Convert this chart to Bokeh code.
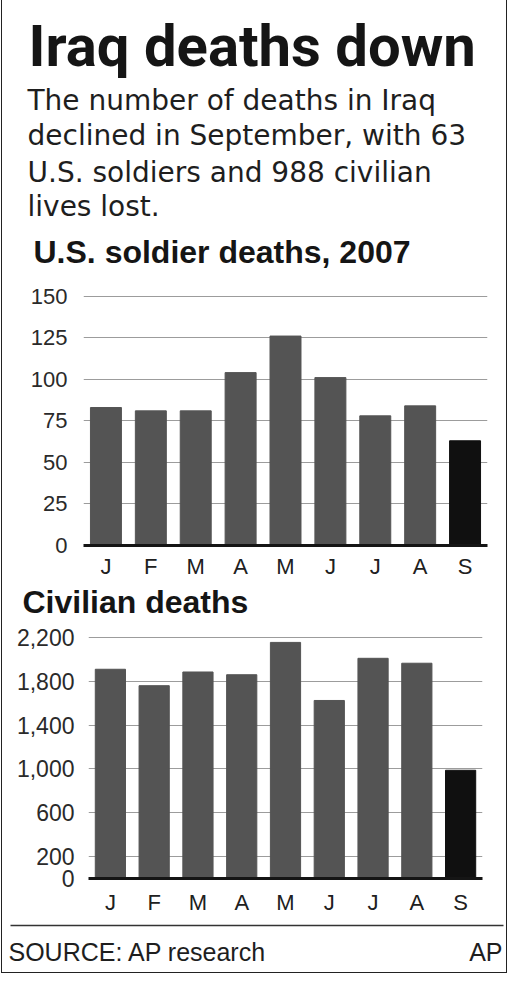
from bokeh.plotting import figure
from bokeh.models import (ColumnDataSource, Range1d, FixedTicker,
                          NumeralTickFormatter)
from bokeh.layouts import column
from bokeh.core.properties import value
from bokeh.embed import file_html
from bokeh.resources import INLINE

# ---------------- data ----------------
months = ["Jan", "Feb", "Mar", "Apr", "May", "Jun", "Jul", "Aug", "Sep"]
month_labels = ["J", "F", "M", "A", "M", "J", "J", "A", "S"]
soldier_deaths = [83, 81, 81, 104, 126, 101, 78, 84, 63]
civilian_deaths = [1910, 1760, 1885, 1860, 2155, 1625, 2010, 1965, 988]
soldier_ticks = [0, 25, 50, 75, 100, 125, 150]
civilian_ticks = [0, 200, 600, 1000, 1400, 1800, 2200]
highlight_month = "Sep"

title = "Iraq deaths down"
subtitle_lines = ["The number of deaths in Iraq",
                  "declined in September, with 63",
                  "U.S. soldiers and 988 civilian",
                  "lives lost."]
chart1_title = "U.S. soldier deaths, 2007"
chart2_title = "Civilian deaths"
source_text = "SOURCE: AP research"
credit_text = "AP"

# ---------------- style ----------------
W = 504
BAR = "#545454"
BAR_HI = "#101010"
INK = "#151515"
GRID = "#9c9c9c"
SANS = "Liberation Sans"


def text_panel(h):
    p = figure(width=W, height=h, x_range=Range1d(0, W), y_range=Range1d(h, 0),
               toolbar_location=None, output_backend="svg", min_border=0,
               outline_line_color=None, background_fill_color="white",
               border_fill_color="white", frame_align=False)
    p.axis.visible = False
    p.grid.visible = False
    return p


def bar_chart(values, ticks, y_end, h, left, right, top, bottom, ysize, ystand,
              xstand):
    xs = list(range(len(months)))
    colors = [BAR_HI if m == highlight_month else BAR for m in months]
    src = ColumnDataSource(dict(x=xs, month=months, value=values, color=colors))
    p = figure(width=W, height=h, x_range=Range1d(-0.5, len(months) - 0.5),
               y_range=Range1d(0, y_end), toolbar_location=None,
               output_backend="svg", min_border_left=left, min_border_right=right,
               min_border_top=top, min_border_bottom=bottom,
               outline_line_color=None, background_fill_color="white",
               border_fill_color="white", frame_align=False)
    p.vbar(x="x", top="value", width=0.69, source=src, fill_color="color",
           line_color="color")
    p.xgrid.visible = False
    p.ygrid.ticker = FixedTicker(ticks=ticks)
    p.ygrid.grid_line_color = GRID
    p.ygrid.grid_line_width = 1.2
    ya = p.yaxis[0]
    ya.ticker = FixedTicker(ticks=ticks)
    ya.axis_line_color = None
    ya.major_tick_line_color = None
    ya.minor_tick_line_color = None
    ya.major_label_standoff = ystand
    ya.major_label_text_font = SANS
    ya.major_label_text_font_size = ysize
    ya.major_label_text_color = "#2a2a2a"
    xa = p.xaxis[0]
    xa.ticker = FixedTicker(ticks=xs)
    xa.axis_line_color = INK
    xa.axis_line_width = 3
    xa.major_tick_line_color = None
    xa.minor_tick_line_color = None
    xa.major_label_overrides = dict(zip(xs, month_labels))
    xa.major_label_standoff = xstand
    xa.major_label_text_font = SANS
    xa.major_label_text_font_size = "22px"
    xa.major_label_text_color = "#202020"
    return p


# ---------------- header (page y 0-280) ----------------
head = text_panel(280)
head.text(x=[26], y=[45], text=[title], text_font=value("Roboto"),
          text_font_style="bold", text_font_size="58px", text_color=INK,
          text_baseline="middle")
head.text(x=[25] * 4, y=[100, 135, 172, 206], text=subtitle_lines,
          text_font=value("DejaVu Sans"), text_font_size="28px",
          text_color="#1e1e1e", text_baseline="middle")
head.text(x=[31], y=[251], text=[chart1_title], text_font=value(SANS),
          text_font_style="bold", text_font_size="32px", text_color=INK,
          text_baseline="middle")

# ---------------- chart 1 (page y 280-581) ----------------
p1 = bar_chart(soldier_deaths, soldier_ticks, 153.4, 301, 81, 19, 10, 36,
               "22px", 10, 2)

# ---------------- heading 2 (page y 581-621) ----------------
h2 = text_panel(40)
h2.text(x=[20], y=[20], text=[chart2_title], text_font=value(SANS),
        text_font_style="bold", text_font_size="32px", text_color=INK,
        text_baseline="middle")

# ---------------- chart 2 (page y 621-918) ----------------
p2 = bar_chart(civilian_deaths, civilian_ticks, 2282, 297, 86, 24, 7, 40,
               "23px", 8, 5)
p2.yaxis[0].formatter = NumeralTickFormatter(format="0,0")

# ---------------- footer (page y 918-972) ----------------
foot = text_panel(54)
foot.segment(x0=[8], y0=[7], x1=[501], y1=[7], line_color="#333333", line_width=1.5)
foot.text(x=[6], y=[33], text=[source_text], text_font=value(SANS),
          text_font_size="25px", text_color="#1e1e1e", text_baseline="middle")
foot.text(x=[500], y=[33], text=[credit_text], text_font=value(SANS),
          text_font_size="25px", text_color="#1e1e1e", text_baseline="middle",
          text_align="right")

layout = column(head, p1, h2, p2, foot, spacing=0,
                styles={"margin-left": "1px",
                        "border-left": "1px solid #222", "border-right": "1px solid #222",
                        "border-bottom": "1px solid #222"})

open("out.html", "w").write(file_html(layout, INLINE))
